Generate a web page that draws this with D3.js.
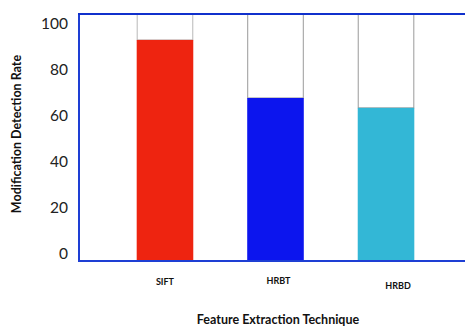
<!DOCTYPE html>
<html>
<head>
<meta charset="utf-8">
<script src="https://cdn.jsdelivr.net/npm/d3@7"></script>
<style>
  body { margin: 0; background: #fff; }
  text { font-family: Lato, "Open Sans", sans-serif; }
</style>
</head>
<body>
<svg id="chart" width="465" height="327"></svg>
<script>
var techniques = ['SIFT', 'HRBT', 'HRBD'];
var detectionRate = [89.5, 66, 62];
var barColors = ['#ee2410', '#0c15ee', '#33b7d6'];
var yTicks = [0, 20, 40, 60, 80, 100];

var svg = d3.select('#chart');
var plotLeft = 79, plotTop = 14, plotBottom = 261, plotRight = 465;

var x = d3.scaleBand()
    .domain(techniques)
    .range([79, 472])
    .paddingInner(0.488)
    .paddingOuter(0.522);

var y = d3.scaleLinear().domain([0, 100]).range([plotBottom, plotTop]);
// the tick labels sit a little inside the frame in the original
var yLab = d3.scaleLinear().domain([0, 100]).range([253.5, 24]);

// gray outlines above bars (empty part up to 100)
var g = svg.append('g');
g.selectAll('.ghost')
    .data(detectionRate)
    .enter().append('rect')
    .attr('x', (d, i) => x(techniques[i]) + 0.5)
    .attr('y', y(100))
    .attr('width', x.bandwidth() - 1)
    .attr('height', d => y(d) - y(100))
    .attr('fill', 'none')
    .attr('stroke', (d, i) => i == 0 ? '#b8b8b8' : '#9a9a9a')
    .attr('stroke-width', 1);

g.selectAll('.bar')
    .data(detectionRate)
    .enter().append('rect')
    .attr('x', (d, i) => x(techniques[i]))
    .attr('y', d => y(d))
    .attr('width', x.bandwidth())
    .attr('height', d => y(0) - y(d))
    .attr('fill', (d, i) => barColors[i]);

// frame
svg.append('line').attr('x1', plotLeft).attr('x2', plotLeft).attr('y1', plotTop - 1).attr('y2', plotBottom + 1)
    .attr('stroke', '#1e3fd4').attr('stroke-width', 2);
svg.append('line').attr('x1', plotLeft - 1).attr('x2', plotRight).attr('y1', plotTop).attr('y2', plotTop)
    .attr('stroke', '#1030cc').attr('stroke-width', 2);
svg.append('line').attr('x1', plotLeft - 1).attr('x2', plotRight).attr('y1', plotBottom).attr('y2', plotBottom)
    .attr('stroke', '#1e3fd4').attr('stroke-width', 2);

// y tick labels
svg.selectAll('.ytick')
    .data(yTicks)
    .enter().append('text')
    .attr('x', 68)
    .attr('y', d => yLab(d))
    .attr('dy', '0.35em')
    .attr('text-anchor', 'end')
    .style('font-size', '15.5px')
    .attr('fill', '#222')
    .text(d => d);

// x labels are not quite centred under the bars in the original
var labelDx = [0, 3, 12];
var labelY = [282, 281, 286];
svg.selectAll('.xlab')
    .data(techniques)
    .enter().append('text')
    .attr('x', (d, i) => x(d) + x.bandwidth() / 2 + labelDx[i])
    .attr('y', (d, i) => labelY[i])
    .attr('dy', '0.35em')
    .attr('text-anchor', 'middle')
    .style('font-size', '9px')
    .style('font-weight', 'bold')
    .attr('fill', '#111')
    .text(d => d);

svg.append('text')
    .attr('x', 278)
    .attr('y', 320)
    .attr('dy', '0.35em')
    .attr('text-anchor', 'middle')
    .style('font-size', '12.5px')
    .style('font-weight', 'bold')
    .attr('fill', '#111')
    .text('Feature Extraction Technique');

svg.append('text')
    .attr('transform', 'translate(17,134) rotate(-90)')
    .attr('dy', '0.35em')
    .attr('text-anchor', 'middle')
    .style('font-size', '12.5px')
    .style('font-weight', 'bold')
    .attr('fill', '#111')
    .text('Modification Detection Rate');
</script>
</body>
</html>
